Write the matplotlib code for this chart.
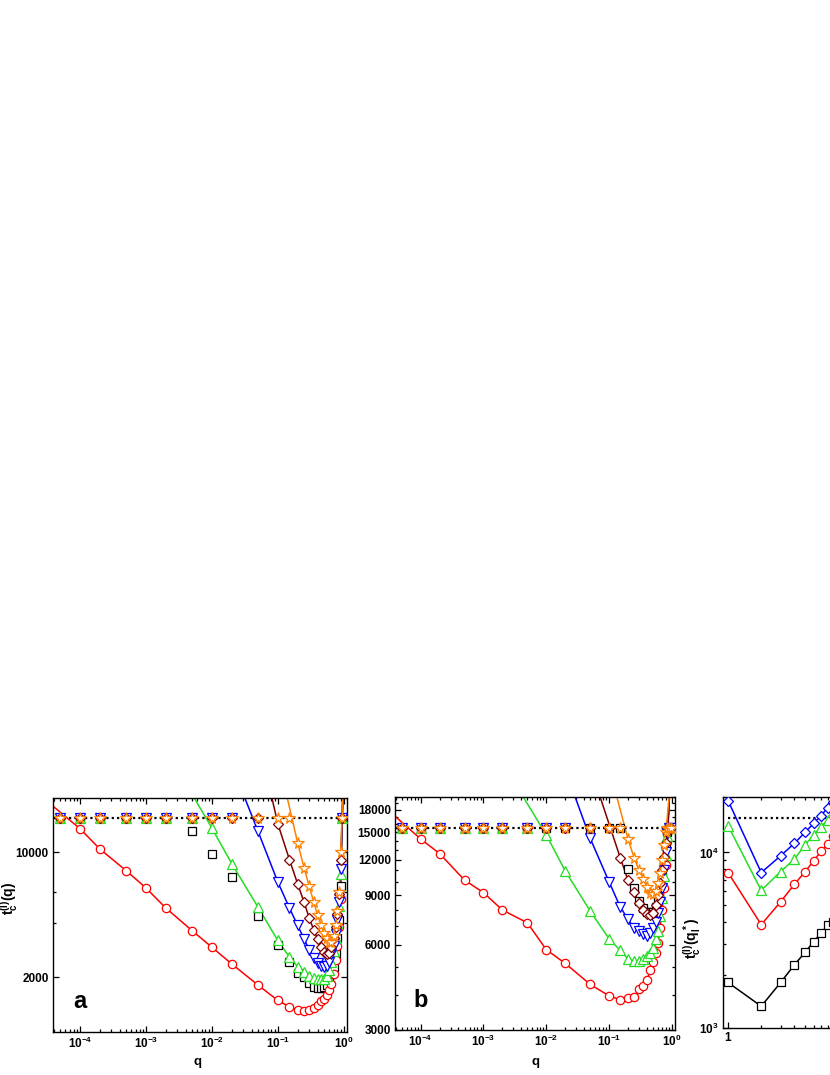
import numpy as np
import matplotlib
matplotlib.use('Agg')
import matplotlib.pyplot as plt
from matplotlib.ticker import FixedLocator, FixedFormatter, NullFormatter, LogLocator

plt.rcParams['font.family'] = 'Liberation Sans'
plt.rcParams['font.weight'] = 'bold'
plt.rcParams['mathtext.fontset'] = 'custom'
plt.rcParams['mathtext.rm'] = 'Liberation Sans:bold'
plt.rcParams['mathtext.it'] = 'Liberation Sans:bold'
plt.rcParams['mathtext.bf'] = 'Liberation Sans:bold'
plt.rcParams['mathtext.default'] = 'rm'

# ---- data ----
q = [5e-5, 1e-4, 2e-4, 5e-4, 1e-3, 2e-3, 5e-3, 0.01, 0.02, 0.05,
     0.1, 0.15, 0.2, 0.25, 0.3, 0.35, 0.4, 0.45, 0.5, 0.55,
     0.6, 0.65, 0.7, 0.75, 0.8, 0.85, 0.9, 0.95]

# panel a (saturation level 15500)
sat_a = 15500
red_a = [15500, 13500, 10400, 7880, 6310, 4880, 3650, 2950, 2380, 1815,
         1490, 1374, 1320, 1300, 1320, 1360, 1400, 1470, 1520, 1592,
         1700, 1850, 2100, 2500, 3000, 3800, 5500, 15500]
green_a = [15500] * 7 + [13600, 8620, 4935, 3214, 2600, 2300, 2150, 2050, 1990,
                         1960, 1950, 1970, 2050, 2200, 2450, 2800, 3300, 4000,
                         5000, 7500, 15500]
blue_a = [15500] * 9 + [13070, 6810, 4880, 3900, 3280, 2850, 2560, 2400, 2330,
                        2280, 2330, 2450, 2700, 3000, 3500, 4200, 5300, 8000, 15500]
brown_a = [15500] * 10 + [14380, 9080, 6640, 5260, 4280, 3690, 3280, 2970, 2790,
                          2690, 2750, 2970, 3300, 3800, 4500, 5800, 9000, 15500]
orange_a = [15500] * 12 + [11250, 8160, 6440, 5260, 4470, 3930, 3530, 3310, 3170,
                           3170, 3400, 3900, 4700, 6000, 10000, 15500]
black_a = [15500] * 6 + [13070, 9810, 7230, 4375, 3040, 2450, 2127, 2000, 1854,
                         1775, 1738, 1752, 1775, 1810, 1936, 2100, 2300, 2700,
                         3300, 4200, 6500, 15500]
# where the fitted curves leave the frame (left end, right end)
ends_a = {'red': ((3.9e-5, 18000), (0.97, 21000)),
          'green': ((0.0052, 20500), (0.97, 21000)),
          'blue': ((0.030, 21000), (0.97, 21000)),
          'brown': ((0.079, 21000), (0.97, 21000)),
          'orange': ((0.135, 21000), (0.97, 21000))}

# panel b (saturation level 15600)
sat_b = 15600
red_b = [15600, 14210, 12620, 10160, 9180, 7970, 7180, 5770, 5160, 4350,
         3960, 3840, 3900, 3930, 4180, 4300, 4490, 4870, 5220, 5620,
         6100, 6890, 8000, 9500, 11500, 14000, 15600, 15600]
green_b = [15600] * 7 + [14690, 10960, 7900, 6300, 5740, 5350, 5250, 5280, 5350,
                         5470, 5620, 5860, 6270, 6710, 7600, 8800, 10500, 12500,
                         14500, 15600, 15600]
blue_b = [15600] * 9 + [14280, 10020, 8180, 7390, 6890, 6710, 6530, 6440, 6620,
                        6890, 7200, 7800, 8500, 9500, 11000, 12800, 14800, 15600, 15600]
brown_b = [15600] * 11 + [12220, 10160, 9200, 8460, 8000, 7700, 7650, 7800, 8300,
                          9000, 9900, 11000, 12300, 13800, 15000, 15600, 15600]
orange_b = [15600] * 12 + [14200, 12200, 11000, 10300, 9600, 9150, 9050, 9300,
                           9900, 10800, 12000, 13500, 15000, 15600, 15600, 15600]
black_b = [15600] * 12 + [11100, 9500, 8570, 8110, 7850, 7810, 7850, 8200, 8700,
                          9500, 10500, 11800, 13500, 15000, 15600, 15600]
ends_b = {'red': ((3.9e-5, 17100), (0.92, 21000)),
          'green': ((0.0043, 20000), (0.92, 21000)),
          'blue': ((0.0288, 20000), (0.92, 21000)),
          'brown': ((0.072, 20000), (0.92, 21000)),
          'orange': ((0.133, 20000), (0.92, 21000))}

# panel c
l_c = [1, 2, 3, 4, 5, 6, 7, 8, 9]
blue_c = [19770, 7680, 9570, 11270, 13030, 14670, 16220, 18000, 19400]
green_c = [14210, 6080, 7780, 9160, 11060, 12620, 14030, 15320, 17000]
red_c = [7680, 3880, 5240, 6580, 7780, 8960, 10210, 11160, 12400]
black_c = [1817, 1330, 1817, 2290, 2700, 3110, 3480, 3850, 4000]
sat_c = 15670

colors = {'red': '#ff0000', 'green': '#22dd22', 'blue': '#0000ff',
          'brown': '#800000', 'orange': '#ff8000', 'black': '#000000'}
markers = {'red': ('o', 6), 'green': ('^', 6.5), 'blue': ('v', 6.5),
           'brown': ('D', 5), 'orange': ('*', 8.5), 'black': ('s', 5.5)}

W, H = 830, 1075
fig = plt.figure(figsize=(W / 100, H / 100), dpi=100)


def px_axes(left, top, right, bottom):
    return fig.add_axes([left / W, (H - bottom) / H, (right - left) / W, (bottom - top) / H])


def style(ax):
    ax.tick_params(which='both', direction='in', top=True, right=True,
                   labelsize=8.5, pad=3, width=0.9)
    ax.tick_params(which='major', length=4)
    ax.tick_params(which='minor', length=2.2)
    for s in ax.spines.values():
        s.set_linewidth(1.0)


def qpanel(ax, series, ends, sat, ylim):
    ax.set_xscale('log')
    ax.set_yscale('log')
    ax.axhline(sat, color='black', ls=(0, (1, 1.4)), lw=1.6, zorder=2.5)
    for name in ['black', 'red', 'green', 'blue', 'brown', 'orange']:
        t = np.array(series[name], dtype=float)
        qq = np.array(q)
        c = colors[name]
        m, ms = markers[name]
        if name in ends:
            (ql, tl), (qr, tr) = ends[name]
            keep = t < sat
            lq = np.concatenate([[ql], qq[keep], [qr]])
            lt = np.concatenate([[tl], t[keep], [tr]])
            ax.plot(lq, lt, '-', color=c, lw=1.1, zorder=2)
        ax.plot(qq, t, ls='none', marker=m, ms=ms, mfc='white', mec=c, mew=0.9, zorder=3)
    ax.set_xlim(3.9e-5, 1.12)
    ax.set_ylim(*ylim)
    ax.xaxis.set_major_locator(FixedLocator([1e-4, 1e-3, 1e-2, 1e-1, 1]))
    ax.xaxis.set_major_formatter(FixedFormatter([r'$10^{-4}$', r'$10^{-3}$', r'$10^{-2}$',
                                                 r'$10^{-1}$', r'$10^{0}$']))
    ax.xaxis.set_minor_locator(LogLocator(base=10, subs=np.arange(2, 10), numticks=20))
    ax.xaxis.set_minor_formatter(NullFormatter())
    style(ax)


# panel a
ax_a = px_axes(53, 798, 347, 1031.5)
qpanel(ax_a, {'red': red_a, 'green': green_a, 'blue': blue_a, 'brown': brown_a,
              'orange': orange_a, 'black': black_a}, ends_a, sat_a, (1000, 20000))
ax_a.yaxis.set_major_locator(FixedLocator([2000, 10000]))
ax_a.yaxis.set_major_formatter(FixedFormatter(['2000', '10000']))
ax_a.yaxis.set_minor_locator(FixedLocator([4000, 6000]))
ax_a.yaxis.set_minor_formatter(NullFormatter())
ax_a.text(0.068, 0.10, 'a', transform=ax_a.transAxes, fontsize=17, fontweight='bold')

# panel b
ax_b = px_axes(395, 797, 675, 1030)
qpanel(ax_b, {'red': red_b, 'green': green_b, 'blue': blue_b, 'brown': brown_b,
              'orange': orange_b, 'black': black_b}, ends_b, sat_b, (3000, 20000))
yb = [3000, 6000, 9000, 12000, 15000, 18000]
ax_b.yaxis.set_major_locator(FixedLocator(yb))
ax_b.yaxis.set_major_formatter(FixedFormatter([str(v) for v in yb]))
ax_b.yaxis.set_minor_locator(FixedLocator([v for v in range(4000, 20001, 1000) if v not in yb]))
ax_b.yaxis.set_minor_formatter(NullFormatter())
ax_b.text(0.065, 0.10, 'b', transform=ax_b.transAxes, fontsize=17, fontweight='bold')

# panel c (runs past the right edge of the page)
ax_c = px_axes(723, 797, 847, 1028)
ax_c.set_xscale('log')
ax_c.set_yscale('log')
ax_c.plot([1, 12], [sat_c, sat_c], color='black', ls=(0, (1, 1.4)), lw=1.6, zorder=2.5)
for name, t in [('black', black_c), ('red', red_c), ('green', green_c), ('blue', blue_c)]:
    m, ms = markers[name]
    if name == 'blue':
        m, ms = 'D', 5
    ax_c.plot(l_c, t, '-', marker=m, ms=ms, color=colors[name], mfc='white',
              mec=colors[name], mew=0.9, lw=1.1, zorder=3)
ax_c.set_xlim(0.9, 12)
ax_c.set_ylim(1000, 20700)
ax_c.xaxis.set_major_locator(FixedLocator([1, 10]))
ax_c.xaxis.set_major_formatter(FixedFormatter(['1', '']))
ax_c.xaxis.set_minor_locator(FixedLocator([2, 3, 4, 5, 6, 7, 8, 9]))
ax_c.xaxis.set_minor_formatter(NullFormatter())
ax_c.yaxis.set_major_locator(FixedLocator([1000, 10000]))
ax_c.yaxis.set_major_formatter(FixedFormatter([r'$10^{3}$', r'$10^{4}$']))
ax_c.yaxis.set_minor_locator(LogLocator(base=10, subs=np.arange(2, 10), numticks=20))
ax_c.yaxis.set_minor_formatter(NullFormatter())
style(ax_c)

# axis titles
fig.text(197 / W, (H - 1062) / H, 'q', ha='center', va='center', fontsize=9.5, fontweight='bold')
fig.text(535 / W, (H - 1062) / H, 'q', ha='center', va='center', fontsize=9.5, fontweight='bold')
fig.text(9 / W, (H - 898) / H, r'$t_c^{(l)}(q)$', rotation=90, ha='center', va='center',
         fontsize=10)
fig.text(692 / W, (H - 938) / H, r'$t_c^{(l)}(q_l^*)$', rotation=90, ha='center', va='center',
         fontsize=10)

fig.savefig('out.png', dpi=100)
